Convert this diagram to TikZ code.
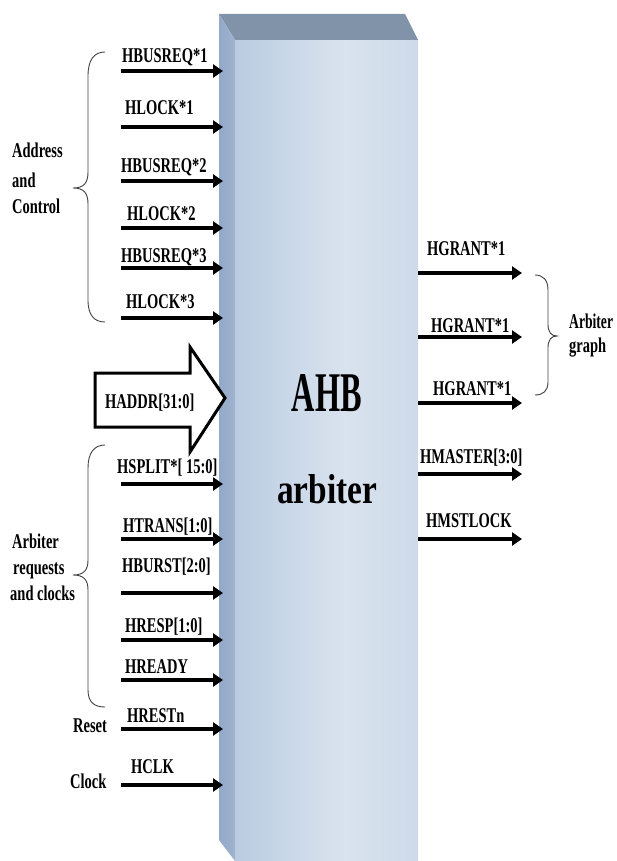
\documentclass[tikz,border=0pt]{standalone}
\usepackage{fontspec}
\setmainfont{Liberation Serif}
\newfontfamily\cond[FakeStretch=0.69]{Liberation Serif}
\usetikzlibrary{arrows.meta}
\definecolor{fa}{HTML}{A0B8D8}
\definecolor{fb}{HTML}{D9E3EE}
\definecolor{fc}{HTML}{C6D4E6}
\definecolor{fd}{HTML}{AFC3DD}
\definecolor{topbev}{HTML}{8093A8}
\definecolor{leftbev}{HTML}{8DA4C5}
\pgfdeclarehorizontalshading{faceshade}{100bp}{color(0bp)=(fa); color(55bp)=(fb); color(88bp)=(fc); color(97bp)=(fd); color(100bp)=(fb)}
\pgfdeclarehorizontalshading{leftshade}{100bp}{color(0bp)=(leftbev); color(70bp)=(leftbev!85!white); color(100bp)=(leftbev!60!white)}
\tikzset{
  lab/.style={font=\cond\bfseries\fontsize{21}{21}\selectfont, inner sep=0pt, anchor=base west},
  sig/.style={line width=4.2pt, -{Triangle[length=10pt,width=13pt]}},
  brc/.style={draw=black!75, line width=0.9pt},
}
\begin{document}
\begin{tikzpicture}[x=1pt,y=-1pt]
\useasboundingbox (0,0) rectangle (617,861);
% box
\shade[shading=faceshade] (235,40) rectangle (418,861);
\fill[topbev] (219,14) -- (405,14) -- (418,40) -- (235,40) -- cycle;
\shade[shading=leftshade] (219,14) -- (235,40) -- (235,861) -- (219,840) -- cycle;
\coordinate (boxL) at (223,0);
\coordinate (boxR) at (418,0);
% big text
\node[inner sep=0pt] (ahb) at (327,393.5) {\resizebox{70pt}{37pt}{\bfseries AHB}};
\node[inner sep=0pt] (arb) at (327,489) {\resizebox{100pt}{29pt}{\bfseries arbiter}};
% left signals
\foreach \n/\y in {1/71,2/127,3/181,4/228,5/268,6/318,7/484,8/539,9/593,10/640,11/680,12/729,13/785}{
  \coordinate (l\n) at (121,\y);
  \draw[sig] (l\n) -- (l\n -| boxL);
}
\node[lab] (t1) at (122,63) {HBUSREQ*1};
\node[lab] (t2) at (125,115) {HLOCK*1};
\node[lab] (t3) at (121,172) {HBUSREQ*2};
\node[lab] (t4) at (127,220) {HLOCK*2};
\node[lab] (t5) at (121,262) {HBUSREQ*3};
\node[lab] (t6) at (126,308) {HLOCK*3};
\node[lab] (t7) at (117,473) {HSPLIT*[ 15:0]};
\node[lab] (t8) at (123,532) {HTRANS[1:0]};
\node[lab] (t9) at (122,572) {HBURST[2:0]};
\node[lab] (t10) at (125,632) {HRESP[1:0]};
\node[lab] (t11) at (125,673) {HREADY};
\node[lab] (t12) at (127,722) {HRESTn};
\node[lab] (t13) at (131,773) {HCLK};
% HADDR block arrow
\draw[line width=3pt, fill=white, line join=miter] (95,373) -- (190,373) -- (190,347) -- (225,398) -- (190,452) -- (190,427) -- (95,427) -- cycle;
\node[lab] (haddr) at (105,408) {HADDR[31:0]};
% right signals
\foreach \n/\y in {1/273,2/337,3/403,4/474,5/539}{
  \coordinate (r\n) at (522,\y);
  \draw[sig] (r\n -| boxR) -- (r\n);
}
\node[lab] (g1) at (427,255) {HGRANT*1};
\node[lab] (g2) at (431,332) {HGRANT*1};
\node[lab] (g3) at (433,395) {HGRANT*1};
\node[lab] (hm) at (420,463) {HMASTER[3:0]};
\node[lab] (hl) at (426,527) {HMSTLOCK};
% braces
\draw[brc] (105,52) .. controls (94,52) and (88,60) .. (88,76) -- (88,172) .. controls (88,183) and (84,188) .. (73,188) .. controls (84,188) and (88,193) .. (88,204) -- (88,300) .. controls (88,315) and (94,322) .. (105,322);
\draw[brc] (105,445) .. controls (94,445) and (88,453) .. (88,468) -- (88,560) .. controls (88,570) and (84,575) .. (73,575) .. controls (84,575) and (88,580) .. (88,590) -- (88,690) .. controls (88,702) and (94,707) .. (105,707);
\draw[brc] (535,275) .. controls (543,275) and (548,280) .. (548,290) -- (548,324) .. controls (548,332) and (551,336) .. (557,336) .. controls (551,336) and (548,340) .. (548,348) -- (548,382) .. controls (548,391) and (543,395) .. (535,395);
% group labels
\node[lab] (ac1) at (12,158) {Address};
\node[lab] (ac2) at (12,187) {and};
\node[lab] (ac3) at (12,213) {Control};
\node[lab] (ar1) at (12,548) {Arbiter};
\node[lab] (ar2) at (13,574) {requests};
\node[lab] (ar3) at (10,600) {and clocks};
\node[lab] (rs) at (73,732) {Reset};
\node[lab] (ck) at (70,788) {Clock};
\node[lab] (ag1) at (569,328) {\scalebox{0.94}[1]{Arbiter}};
\node[lab] (ag2) at (569,352) {graph};
\end{tikzpicture}
\end{document}
